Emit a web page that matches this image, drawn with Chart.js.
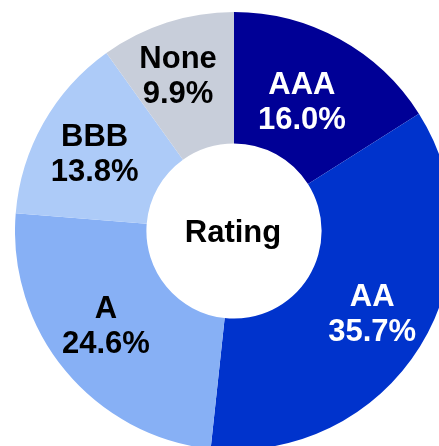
<!DOCTYPE html>
<html>
<head>
<meta charset="utf-8">
<script src="https://cdn.jsdelivr.net/npm/chart.js@4"></script>
<style>
  html, body { margin: 0; padding: 0; background: #fff; overflow: hidden; }
  body { width: 439px; height: 446px; position: relative; }
  #wrap { position: absolute; left: 15px; top: 12px; width: 438px; height: 438px; }
</style>
</head>
<body>
<div id="wrap"><canvas id="myChart" width="438" height="438"></canvas></div>
<script>
// rating buckets, clockwise from 12 o'clock
const ratings = ['AAA', 'AA', 'A', 'BBB', 'None'];
const shares = [16.0, 35.7, 24.6, 13.8, 9.9];
const sliceColors = ['#000096', '#0033cc', '#87b0f5', '#adcbf8', '#c8ceda'];
const textColors = ['#fff', '#fff', '#000', '#000', '#000'];
const centerTitle = 'Rating';

// small hand adjustments of each label away from the slice centroid (px)
const labelNudge = [[-6, 6], [8, 3], [-10, -2], [-6, -1], [-9, -9]];

const FONT = 'bold 31px "Liberation Sans", Arial, sans-serif';

// draws "name / pct" inside each slice and the title in the hole
const sliceLabels = {
  id: 'sliceLabels',
  afterDatasetsDraw(chart) {
    const ctx = chart.ctx;
    const meta = chart.getDatasetMeta(0);
    ctx.save();
    ctx.font = FONT;
    ctx.textAlign = 'center';
    ctx.textBaseline = 'middle';
    meta.data.forEach((arc, i) => {
      const p = arc.getProps(['x', 'y', 'startAngle', 'endAngle', 'innerRadius', 'outerRadius']);
      const mid = (p.startAngle + p.endAngle) / 2;
      const r = (p.innerRadius + p.outerRadius) / 2;
      const cx = p.x + Math.cos(mid) * r + labelNudge[i][0];
      const cy = p.y + Math.sin(mid) * r + labelNudge[i][1];
      ctx.fillStyle = textColors[i];
      ctx.fillText(ratings[i], cx, cy - 17);
      ctx.fillText(shares[i].toFixed(1) + '%', cx, cy + 18);
    });
    const c = meta.data[0];
    ctx.fillStyle = '#000';
    ctx.fillText(centerTitle, c.x - 1, c.y + 2);
    ctx.restore();
  }
};

const ctx = document.getElementById('myChart');
new Chart(ctx, {
  type: 'doughnut',
  data: {
    labels: ratings,
    datasets: [{
      data: shares,
      backgroundColor: sliceColors,
      borderWidth: 0
    }]
  },
  options: {
    responsive: false,
    animation: false,
    cutout: '40%',
    layout: { padding: 0 },
    plugins: {
      legend: { display: false },
      tooltip: { enabled: false }
    }
  },
  plugins: [sliceLabels]
});
</script>
</body>
</html>
